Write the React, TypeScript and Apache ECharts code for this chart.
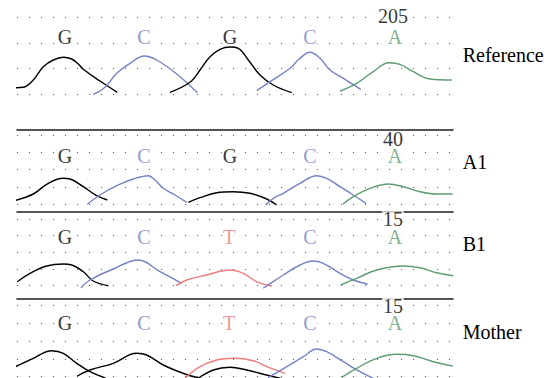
import React, { useEffect, useRef } from "react";
import * as echarts from "echarts";

// ---- data (x = scan position, y = signal height above baseline row) ----
const panelNames = ["Reference", "A1", "B1", "Mother"];
const baseCalls = [
  ["G", "C", "G", "C", "A"],
  ["G", "C", "G", "C", "A"],
  ["G", "C", "T", "C", "A"],
  ["G", "C", "T", "C", "A"],
];
const basePositions = [65, 144, 230, 310, 395];
const positionNumbers = ["205", "40", "15", "15"];
const numberPosition = 393;
const letterHeights = [57, 48.6, 48.4, 53.4];
const numberHeights = [78, 65, 66.5, 71];

type Trace = { base: string; pts: number[][] };

const referenceTraces: Trace[] = [
  { base: "G", pts: [[13.3, 6.3], [23.3, 6.7], [33.3, 14], [43.3, 27.3], [53.3, 34], [63.3, 36.7], [71.7, 35], [78.3, 30], [83.3, 24.7], [100, 13], [117.3, 1.7]] },
  { base: "C", pts: [[93.3, -0.3], [105, 6.7], [116.7, 20.7], [130, 30.7], [144.3, 38], [156.7, 34], [176.7, 20], [197.3, 1.3]] },
  { base: "G", pts: [[170, 1.7], [190.7, 12.3], [200, 24], [210, 37.3], [220, 44.7], [230, 47], [238.3, 45.7], [248.3, 34], [260, 19], [273.3, 9], [291.7, 1.3]] },
  { base: "C", pts: [[256.7, 3.3], [270, 12.3], [290, 25.7], [300, 35.7], [310, 41.7], [320, 35.7], [330, 24], [343.3, 15.7], [360.7, 4.7]] },
  { base: "A", pts: [[340, 3], [356.7, 10.7], [373.3, 22.3], [389, 31.3], [400, 29.7], [413.3, 22.3], [430, 15], [451.7, 14]] },
];
const a1Traces: Trace[] = [
  { base: "G", pts: [[13.3, 3.3], [33.3, 10.3], [46.7, 20], [63.3, 26], [70, 25.3], [83.3, 17.6], [96.7, 8.6], [107.3, 4.3]] },
  { base: "C", pts: [[87.3, 0], [100, 9.3], [116.7, 18.6], [133.3, 25.3], [148.3, 28.6], [155, 24.3], [163.3, 16], [173.3, 10.3], [186.7, 2]] },
  { base: "G", pts: [[188.3, 2], [200, 6.6], [216.7, 11.6], [233.3, 12.6], [250, 11], [266.7, 5.3], [276.7, -0.7]] },
  { base: "C", pts: [[265.7, -0.7], [273.3, 6], [283.3, 11], [300, 21], [316.7, 28.6], [326.7, 26], [340, 17.6], [353.3, 9.3], [366, 1]] },
  { base: "A", pts: [[342.7, 0], [353.3, 7.6], [370, 16], [388.3, 20.3], [403.3, 17.6], [420, 12.6], [436.7, 10.3], [452.7, 10.3]] },
];
const b1Traces: Trace[] = [
  { base: "G", pts: [[17.3, 4], [30, 12.4], [46.7, 19.7], [63.3, 21.7], [71.7, 20.7], [83.3, 14], [93.3, 4.7], [108.3, 0]] },
  { base: "C", pts: [[81, -2], [90, 5.7], [113.3, 16.7], [138.3, 25.7], [160, 14], [181.7, 2.4]] },
  { base: "T", pts: [[176, 0], [186.7, 5.7], [206.7, 10.7], [230, 15.7], [243.3, 12.4], [256.7, 4], [272, -0.5]] },
  { base: "C", pts: [[263.3, -2.6], [270, 2], [283.3, 10.7], [300, 20.7], [313.3, 24.7], [323.3, 22.4], [340, 12.4], [353.3, 5.7], [367.7, 1.4]] },
  { base: "A", pts: [[340.7, 0.7], [356.7, 7.4], [376.7, 15.7], [403.3, 19.7], [420, 18], [436.7, 13], [453.3, 10]] },
];
const motherTraces: Trace[] = [
  { base: "G", pts: [[13.3, 9], [33.3, 18.4], [51.7, 26], [63.3, 23.4], [76.7, 13.4], [90, 5], [106, -1.6]] },
  { base: "G", pts: [[77.3, 0.7], [90, 6.7], [113.3, 13.4], [136.7, 23.4], [146.7, 21.7], [163.3, 11.7], [185, 2.7], [200, -1.6]] },
  { base: "T", pts: [[185, -1.6], [200, 10], [216.7, 16.7], [233.3, 18.4], [253.3, 16], [266.7, 10], [285, 3.4]] },
  { base: "G", pts: [[196.7, -2.6], [213.3, 6.7], [230, 9.4], [246.7, 6.7], [266.7, 1.7], [282, -2]] },
  { base: "C", pts: [[268, -1], [286.7, 10], [303.3, 20], [316.7, 27.7], [326.7, 25], [343.3, 15], [360, 5], [373.3, -1.6]] },
  { base: "A", pts: [[341.7, -0.6], [356.7, 8.4], [376.7, 18.4], [396.7, 22.4], [413.3, 21], [433.3, 15], [452.7, 10.7]] },
];
const allTraces = [referenceTraces, a1Traces, b1Traces, motherTraces];

// ---- layout / style ----
const baseColors: Record<string, string> = {
  G: "#000000",
  C: "#7482c4",
  T: "#f07c7c",
  A: "#5f9c74",
};
const gridTops = [17.3, 135, 219, 305];
const gridHeights = [76.7, 69.3, 66.7, 71.7];
const gridRows = [3, 4, 4, 4];
const borderOffsets = [0, 5.5, 7.3, 6.7];
const nameY = [55, 161.7, 244.3, 331.7];
const FONT = '"Liberation Serif", "DejaVu Serif", serif';

export default function App() {
  const ref = useRef<HTMLDivElement>(null);
  useEffect(() => {
    if (!ref.current) return;
    const chart = echarts.init(ref.current, null, { renderer: "svg" });
    const grids: any[] = [];
    const xAxes: any[] = [];
    const yAxes: any[] = [];
    const series: any[] = [];
    for (let i = 0; i < 4; i++) {
      grids.push({ left: 17, right: 104, top: gridTops[i], height: gridHeights[i] });
      xAxes.push({
        gridIndex: i,
        type: "value",
        min: 17,
        max: 453,
        show: i > 0,
        position: "top",
        offset: borderOffsets[i],
        axisLine: { show: true, onZero: false, lineStyle: { color: "#1e1e1e", width: 1.6 } },
        axisTick: { show: false },
        axisLabel: { show: false },
        splitLine: { show: false },
      });
      yAxes.push({
        gridIndex: i,
        type: "value",
        min: 0,
        max: gridHeights[i],
        interval: gridHeights[i] / gridRows[i],
        axisLine: { show: false },
        axisTick: { show: false },
        axisLabel: { show: false },
        splitLine: { show: true, lineStyle: { type: [1, 11], color: "#555", width: 1 } },
      });
      allTraces[i].forEach((t) => {
        series.push({
          type: "line",
          xAxisIndex: i,
          yAxisIndex: i,
          data: t.pts,
          smooth: 0.4,
          symbol: "none",
          clip: false,
          silent: true,
          lineStyle: { color: baseColors[t.base], width: 1.4 },
        });
      });
      const labelData: any[] = baseCalls[i].map((b, k) => ({
        value: [basePositions[k] - (b === "T" ? 1 : 0), letterHeights[i]],
        name: b,
        label: { color: baseColors[b] },
      }));
      labelData.push({
        value: [numberPosition, numberHeights[i]],
        name: positionNumbers[i],
        label: { color: "#000" },
      });
      series.push({
        type: "scatter",
        xAxisIndex: i,
        yAxisIndex: i,
        data: labelData,
        symbolSize: 1,
        clip: false,
        itemStyle: { color: "rgba(0,0,0,0)" },
        silent: true,
        z: 5,
        label: {
          show: true,
          position: "inside",
          formatter: "{b}",
          fontFamily: FONT,
          fontSize: 20,
          lineHeight: 16,
          backgroundColor: "#fff",
          padding: [0, 1],
        },
      });
    }
    chart.setOption({
      animation: false,
      backgroundColor: "#fff",
      grid: grids,
      xAxis: xAxes,
      yAxis: yAxes,
      series,
      graphic: panelNames.map((n, i) => ({
        type: "text",
        x: 462.7,
        y: nameY[i],
        style: { text: n, fill: "#000", font: `20px ${FONT}`, verticalAlign: "middle" },
      })),
    });
    return () => chart.dispose();
  }, []);
  return (
    <div
      ref={ref}
      style={{ position: "fixed", left: 0, top: 0, width: 557, height: 378, background: "#fff" }}
    />
  );
}
